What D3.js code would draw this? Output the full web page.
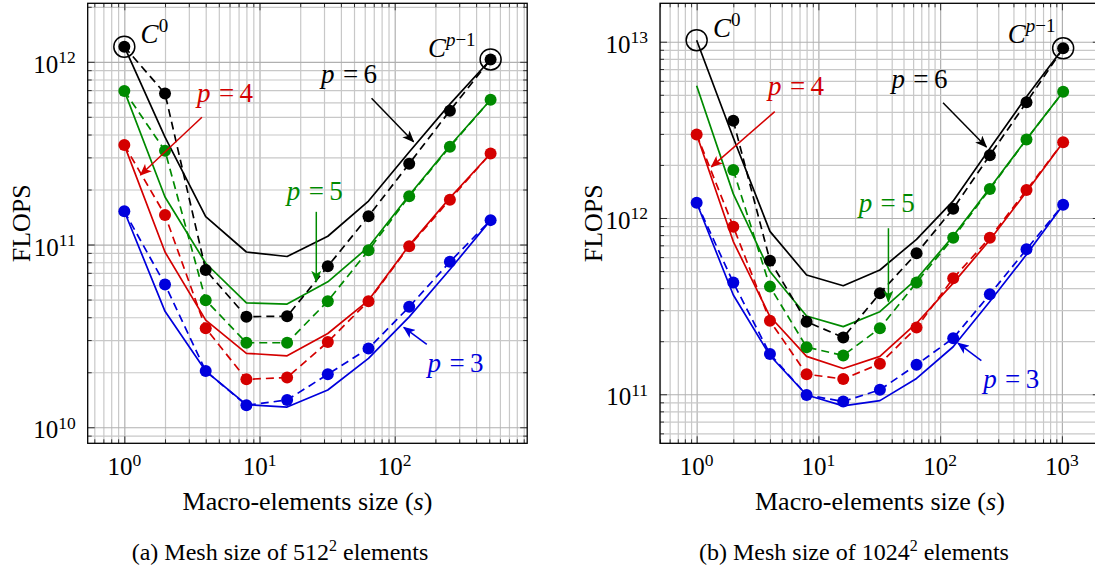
<!DOCTYPE html>
<html>
<head>
<meta charset="utf-8">
<script src="https://cdn.jsdelivr.net/npm/d3@7"></script>
<style>
  html, body { margin: 0; padding: 0; background: #fff; }
  svg { display: block; font-family: "Liberation Serif", "Times New Roman", serif; }
</style>
</head>
<body>
<svg id="chart" width="1095" height="572"></svg>
<script>
// ---------------------------------------------------------------
// Macro-element sizes s
const sizesA = [1, 2, 4, 8, 16, 32, 64, 128, 256, 512];
const sizesB = [1, 2, 4, 8, 16, 32, 64, 128, 256, 512, 1024];

// (a) mesh of 512^2 elements — solid curves
const solidA_p3 = [1.52e11, 4.31e10, 2.03e10, 1.33e10, 1.29e10, 1.60e10, 2.38e10, 4.02e10, 7.30e10, 1.36e11];
const solidA_p4 = [3.50e11, 9.10e10, 3.86e10, 2.54e10, 2.46e10, 3.26e10, 4.95e10, 9.90e10, 1.80e11, 3.15e11];
const solidA_p5 = [6.93e11, 1.82e11, 7.90e10, 4.80e10, 4.72e10, 6.25e10, 9.70e10, 1.86e11, 3.47e11, 6.20e11];
const solidA_p6 = [1.21e12, 3.87e11, 1.42e11, 9.10e10, 8.60e10, 1.11e11, 1.73e11, 3.21e11, 5.87e11, 1.03e12];
// (a) dashed curves with markers
const dashedA_p3 = [1.52e11, 6.05e10, 2.03e10, 1.32e10, 1.41e10, 1.95e10, 2.70e10, 4.56e10, 8.04e10, 1.36e11];
const dashedA_p4 = [3.50e11, 1.45e11, 3.48e10, 1.83e10, 1.87e10, 2.93e10, 4.90e10, 9.80e10, 1.76e11, 3.15e11];
const dashedA_p5 = [6.93e11, 3.26e11, 4.96e10, 2.90e10, 2.90e10, 4.90e10, 9.30e10, 1.84e11, 3.43e11, 6.20e11];
const dashedA_p6 = [1.21e12, 6.70e11, 7.25e10, 4.03e10, 4.05e10, 7.60e10, 1.43e11, 2.77e11, 5.40e11, 1.03e12];

// (b) mesh of 1024^2 elements — solid curves
const solidB_p3 = [1.22e12, 3.66e11, 1.66e11, 9.90e10, 8.60e10, 9.20e10, 1.23e11, 1.86e11, 3.36e11, 6.20e11, 1.19e12];
const solidB_p4 = [2.98e12, 7.35e11, 2.76e11, 1.64e11, 1.40e11, 1.64e11, 2.53e11, 4.27e11, 7.50e11, 1.41e12, 2.69e12];
const solidB_p5 = [5.62e12, 1.37e12, 4.97e11, 2.78e11, 2.42e11, 2.94e11, 4.50e11, 7.90e11, 1.48e12, 2.80e12, 5.20e12];
const solidB_p6 = [1.02e13, 2.85e12, 8.40e11, 4.75e11, 4.13e11, 5.07e11, 7.57e11, 1.25e12, 2.48e12, 4.88e12, 9.18e12];
// (b) dashed curves with markers (no run at s = 1 for p = 5, 6)
const dashedB_p3 = [1.22e12, 4.30e11, 1.69e11, 9.90e10, 9.10e10, 1.06e11, 1.47e11, 2.08e11, 3.69e11, 6.64e11, 1.19e12];
const dashedB_p4 = [2.98e12, 8.93e11, 2.61e11, 1.30e11, 1.22e11, 1.49e11, 2.39e11, 4.55e11, 7.72e11, 1.44e12, 2.69e12];
const dashedB_p5 = [null, 1.87e12, 4.08e11, 1.85e11, 1.66e11, 2.37e11, 4.31e11, 7.72e11, 1.46e12, 2.79e12, 5.20e12];
const dashedB_p6 = [null, 3.56e12, 5.73e11, 2.58e11, 2.10e11, 3.74e11, 6.30e11, 1.13e12, 2.27e12, 4.53e12, 9.18e12];

// Axis tick exponents
const xTickExpA = [0, 1, 2];
const yTickExpA = [10, 11, 12];
const xTickExpB = [0, 1, 2, 3];
const yTickExpB = [11, 12, 13];

const degrees = [3, 4, 5, 6];
const colors = { 3: "#0000dd", 4: "#d40000", 5: "#008a00", 6: "#000000" };

// ---------------------------------------------------------------
const svg = d3.select("#chart");
const defs = svg.append("defs");

// stealth arrow heads, one per colour
degrees.forEach(p => {
  defs.append("marker")
    .attr("id", "arrow-" + p)
    .attr("viewBox", "0 0 12 10")
    .attr("refX", 11).attr("refY", 5)
    .attr("markerWidth", 12).attr("markerHeight", 10)
    .attr("markerUnits", "userSpaceOnUse")
    .attr("orient", "auto")
    .append("path")
    .attr("d", "M0,0 L12,5 L0,10 L3,5 Z")
    .attr("fill", colors[p]);
});

function minorValues(domain) {
  const out = [];
  const lo = Math.floor(Math.log10(domain[0]));
  const hi = Math.ceil(Math.log10(domain[1]));
  for (let e = lo; e <= hi; e++) {
    for (let m = 1; m <= 9; m++) {
      const v = m * Math.pow(10, e);
      if (v >= domain[0] && v <= domain[1]) out.push(v);
    }
  }
  return out;
}
const isDecade = v => Math.abs(Math.log10(v) - Math.round(Math.log10(v))) < 1e-9;

// base-10 power label "10^e"
function powerText(sel, e, size) {
  sel.append("tspan").text("10");
  sel.append("tspan").attr("dy", -0.38 * size).attr("font-size", size * 0.7).text(e);
}

function drawPanel(cfg) {
  const f = cfg.frame;
  const x = d3.scaleLog().domain(cfg.xDomain).range([f.left, f.right]);
  const y = d3.scaleLog().domain(cfg.yDomain).range([f.bottom, f.top]);
  const g = svg.append("g");
  const clipId = "clip-" + cfg.id;
  defs.append("clipPath").attr("id", clipId)
    .append("rect").attr("x", f.left).attr("y", f.top)
    .attr("width", f.right - f.left).attr("height", f.bottom - f.top);

  const xMinor = minorValues(cfg.xDomain);
  const yMinor = minorValues(cfg.yDomain);
  const h = f.bottom - f.top, w = f.right - f.left;

  // grid
  const gx = g.append("g").attr("transform", `translate(0,${f.bottom})`)
    .call(d3.axisBottom(x).tickValues(xMinor).tickSize(-h).tickFormat(""));
  gx.select(".domain").remove();
  gx.selectAll("line").attr("stroke", d => isDecade(d) ? "#b0b0b0" : "#c8c8c8").attr("stroke-width", 1.2);
  const gy = g.append("g").attr("transform", `translate(${f.left},0)`)
    .call(d3.axisLeft(y).tickValues(yMinor).tickSize(-w).tickFormat(""));
  gy.select(".domain").remove();
  gy.selectAll("line").attr("stroke", d => isDecade(d) ? "#b0b0b0" : "#c8c8c8").attr("stroke-width", 1.2);

  // inner ticks on all four sides
  const tickSides = [
    { ax: d3.axisBottom(x), tr: `translate(0,${f.bottom})`, vals: xMinor, attr: "y2", dir: -1 },
    { ax: d3.axisTop(x), tr: `translate(0,${f.top})`, vals: xMinor, attr: "y2", dir: 1 },
    { ax: d3.axisLeft(y), tr: `translate(${f.left},0)`, vals: yMinor, attr: "x2", dir: 1 },
    { ax: d3.axisRight(y), tr: `translate(${f.right},0)`, vals: yMinor, attr: "x2", dir: -1 }
  ];
  tickSides.forEach(side => {
    const t = g.append("g").attr("transform", side.tr)
      .call(side.ax.tickValues(side.vals).tickSizeInner(-4).tickSizeOuter(0).tickFormat(""));
    t.select(".domain").remove();
    t.selectAll(".tick line")
      .attr(side.attr, d => side.dir * (isDecade(d) ? 7 : 4))
      .attr("stroke", "#333").attr("stroke-width", 1);
  });

  // tick labels
  const tickSize = 25;
  cfg.xTickExp.forEach(e => {
    const t = g.append("text")
      .attr("x", x(Math.pow(10, e))).attr("y", f.bottom + 32)
      .attr("text-anchor", "middle").attr("font-size", tickSize).attr("fill", "#000");
    powerText(t, e, tickSize);
  });
  cfg.yTickExp.forEach(e => {
    const t = g.append("text")
      .attr("x", f.left - 12).attr("y", y(Math.pow(10, e)) + 11)
      .attr("text-anchor", "end").attr("font-size", tickSize).attr("fill", "#000");
    powerText(t, e, tickSize);
  });

  // axis titles and caption
  g.append("text")
    .attr("transform", `translate(${f.left - 58},${(f.top + f.bottom) / 2}) rotate(-90)`)
    .attr("text-anchor", "middle").attr("font-size", 26).text("FLOPS");
  const xt = g.append("text")
    .attr("x", (f.left + f.right) / 2)
    .attr("y", f.bottom + 67).attr("text-anchor", "middle").attr("font-size", 26);
  xt.append("tspan").text("Macro-elements size (");
  xt.append("tspan").attr("font-style", "italic").text("s");
  xt.append("tspan").text(")");

  const cap = g.append("text")
    .attr("x", cfg.captionX).attr("y", f.bottom + 117)
    .attr("text-anchor", "middle").attr("font-size", 24);
  cap.append("tspan").text(cfg.captionPre);
  cap.append("tspan").attr("dy", -9).attr("font-size", 16).text("2");
  cap.append("tspan").attr("dy", 9).text(" elements");

  // curves
  const plot = g.append("g").attr("clip-path", `url(#${clipId})`);
  const line = d3.line()
    .defined(d => d[1] != null)
    .x(d => x(d[0])).y(d => y(d[1]));

  cfg.series.forEach(sr => {
    plot.append("path")
      .attr("d", line(cfg.sizes.map((s, i) => [s, sr.solid[i]])))
      .attr("fill", "none").attr("stroke", colors[sr.p]).attr("stroke-width", 1.7)
      .attr("stroke-linejoin", "round");
  });
  cfg.series.forEach(sr => {
    const pts = cfg.sizes.map((s, i) => [s, sr.dashed[i]]);
    plot.append("path")
      .attr("d", line(pts))
      .attr("fill", "none").attr("stroke", colors[sr.p]).attr("stroke-width", 1.7)
      .attr("stroke-dasharray", "8,5");
    plot.selectAll(null)
      .data(pts.filter(d => d[1] != null))
      .enter().append("circle")
      .attr("cx", d => x(d[0])).attr("cy", d => y(d[1])).attr("r", 6)
      .attr("fill", colors[sr.p]);
  });

  // highlighted configurations C^0 and C^{p-1}
  cfg.rings.forEach(r => {
    g.append("circle")
      .attr("cx", x(r.s)).attr("cy", y(r.v)).attr("r", 10.5)
      .attr("fill", "none").attr("stroke", "#000").attr("stroke-width", 1.5);
  });
  const c0 = g.append("text").attr("x", x(cfg.c0Label[0])).attr("y", y(cfg.c0Label[1]))
    .attr("font-size", 27);
  c0.append("tspan").attr("font-style", "italic").text("C");
  c0.append("tspan").attr("dy", -11).attr("font-size", 19).text("0");
  const cp = g.append("text").attr("x", x(cfg.cpLabel[0])).attr("y", y(cfg.cpLabel[1]))
    .attr("font-size", 27);
  cp.append("tspan").attr("font-style", "italic").text("C");
  const sup = cp.append("tspan").attr("dy", -11).attr("font-size", 19);
  sup.append("tspan").attr("font-style", "italic").text("p");
  sup.append("tspan").text("\u22121");

  // degree annotations with arrows
  cfg.notes.forEach(n => {
    const t = g.append("text").attr("x", x(n.at[0])).attr("y", y(n.at[1]))
      .attr("font-size", 27).attr("fill", colors[n.p]);
    t.append("tspan").attr("font-style", "italic").text("p");
    t.append("tspan").text("\u2009=\u2009" + n.p).attr("dx", 3);
    g.append("line")
      .attr("x1", x(n.from[0])).attr("y1", y(n.from[1]))
      .attr("x2", x(n.to[0])).attr("y2", y(n.to[1]))
      .attr("stroke", colors[n.p]).attr("stroke-width", 1.5)
      .attr("marker-end", `url(#arrow-${n.p})`);
  });

  g.append("rect")
    .attr("x", f.left).attr("y", f.top).attr("width", w).attr("height", h)
    .attr("fill", "none").attr("stroke", "#000").attr("stroke-width", 1.3);
}

drawPanel({
  id: "a",
  frame: { left: 87.7, right: 527.2, top: 3.3, bottom: 443.3 },
  xDomain: [0.536, 955], yDomain: [8.17e9, 2.09e12],
  xTickExp: xTickExpA, yTickExp: yTickExpA,
  sizes: sizesA,
  series: [
    { p: 6, solid: solidA_p6, dashed: dashedA_p6 },
    { p: 5, solid: solidA_p5, dashed: dashedA_p5 },
    { p: 4, solid: solidA_p4, dashed: dashedA_p4 },
    { p: 3, solid: solidA_p3, dashed: dashedA_p3 }
  ],
  rings: [{ s: 1, v: dashedA_p6[0] }, { s: 512, v: dashedA_p6[9] }],
  c0Label: [1.32, 1.26e12],
  cpLabel: [176, 1.06e12],
  notes: [
    { p: 6, at: [28.5, 7.67e11], from: [67.4, 6.31e11], to: [137.9, 3.65e11] },
    { p: 4, at: [3.45, 6.04e11], from: [3.75, 4.97e11], to: [1.316, 2.40e11] },
    { p: 5, at: [15.9, 1.75e11], from: [26.3, 1.51e11], to: [26.3, 6.25e10] },
    { p: 3, at: [175, 2.01e10], from: [172.7, 2.84e10], to: [116.7, 3.52e10] }
  ],
  captionX: 280,
  captionPre: "(a) Mesh size of 512"
});

drawPanel({
  id: "b",
  frame: { left: 660, right: 1099.8, top: 3.3, bottom: 443.3 },
  xDomain: [0.5, 2048], yDomain: [5.27e10, 1.652e13],
  xTickExp: xTickExpB, yTickExp: yTickExpB,
  sizes: sizesB,
  series: [
    { p: 6, solid: solidB_p6, dashed: dashedB_p6 },
    { p: 5, solid: solidB_p5, dashed: dashedB_p5 },
    { p: 4, solid: solidB_p4, dashed: dashedB_p4 },
    { p: 3, solid: solidB_p3, dashed: dashedB_p3 }
  ],
  rings: [{ s: 1, v: solidB_p6[0] }, { s: 1024, v: dashedB_p6[10] }],
  c0Label: [1.36, 1.07e13],
  cpLabel: [359, 9.8e12],
  notes: [
    { p: 6, at: [39.8, 5.45e12], from: [105.6, 4.51e12], to: [240, 2.53e12] },
    { p: 4, at: [3.86, 4.99e12], from: [4.38, 4.01e12], to: [1.32, 1.95e12] },
    { p: 5, at: [21.4, 1.08e12], from: [37.6, 8.75e11], to: [37.6, 3.35e11] },
    { p: 3, at: [225.5, 1.09e11], from: [218, 1.55e11], to: [140, 1.95e11] }
  ],
  captionX: 854,
  captionPre: "(b) Mesh size of 1024"
});
</script>
</body>
</html>
